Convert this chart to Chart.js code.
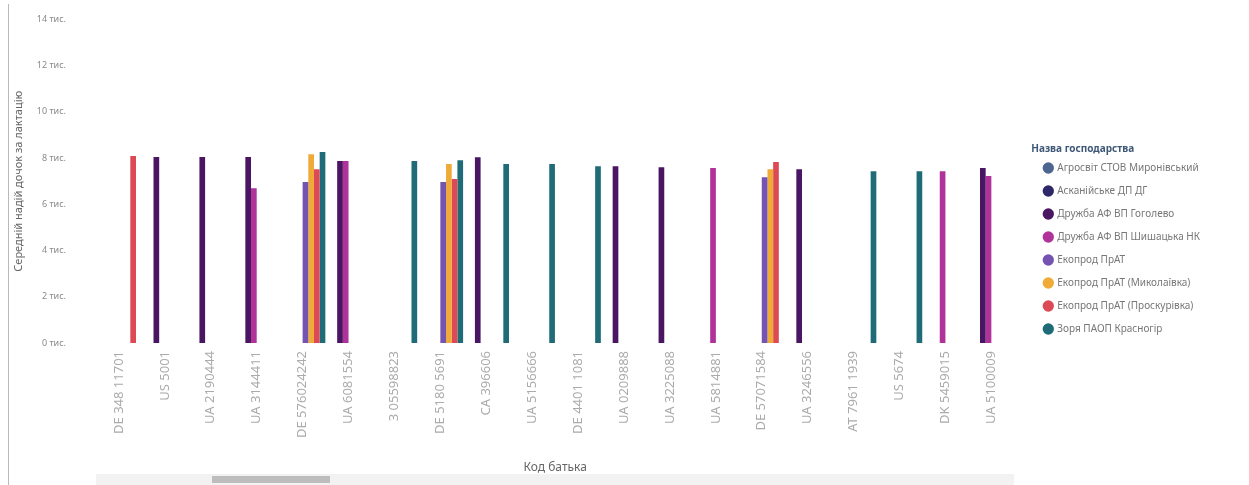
<!DOCTYPE html>
<html lang="uk">
<head>
<meta charset="utf-8" />
<script src="https://cdnjs.cloudflare.com/ajax/libs/Chart.js/4.4.1/chart.umd.min.js"></script>
<title>Надій дочок за кодом батька</title>
<style>
  html, body { margin: 0; padding: 0; background: #fff; overflow: hidden; }
  body { width: 1249px; height: 485px; position: relative; font-family: "Noto Sans", sans-serif; }
  #wrap { position: absolute; left: 0; top: -8px; width: 1249px; height: 493px; }
  .frame { position: absolute; left: 8px; top: 4px; bottom: 0; width: 1px; background: #b9b9b9; }
  .scroll { position: absolute; left: 96px; width: 918px; top: 474px; height: 11px; background: #f2f2f2; }
  .thumb { position: absolute; left: 116px; width: 118px; top: 2px; height: 7px; background: #bdbdbd; }
</style>
</head>
<body>
<div id="wrap"><canvas id="chart" width="1249" height="493"></canvas></div>
<div class="frame"></div>
<div class="scroll"><div class="thumb"></div></div>

<script>
// код батька (категорії осі X)
const categories = [
  "DE 348 11701", "US 5001", "UA 2190444", "UA 3144411", "DE 576024242",
  "UA 6081554", "3 05598823", "DE 5180 5691", "CA 396606", "UA 5156666",
  "DE 4401 1081", "UA 0209888", "UA 3225088", "UA 5814881", "DE 57071584",
  "UA 3246556", "AT 7961 1939", "US 5674", "DK 5459015", "UA 5100009"
];

const farms = [
  "Агросвіт СТОВ Миронівський",
  "Асканійське ДП ДГ",
  "Дружба АФ ВП Гоголево",
  "Дружба АФ ВП Шишацька НК",
  "Екопрод ПрАТ",
  "Екопрод ПрАТ (Миколаївка)",
  "Екопрод ПрАТ (Проскурівка)",
  "Зоря ПАОП Красногір"
];

const farmColors = ["#4d6690", "#2e2868", "#4a1563", "#b0339a", "#7553b0", "#f0aa38", "#dc4b55", "#1f6c78"];

// середній надій, кг (null = немає даних)
const agrosvit    = [null, null, null, null, null, null, null, null, null, null, null, null, null, null, null, null, null, null, null, null];
const askaniia    = [null, null, null, null, null, null, null, null, null, null, null, null, null, null, null, null, null, null, null, null];
const hoholevo    = [null, 8050, 8050, 8050, null, 7870, null, null, 8040, null, null, 7650, 7600, null, null, 7520, null, null, null, 7570];
const shyshaky    = [null, null, null, 6700, null, 7870, null, null, null, null, null, null, null, 7570, null, null, null, null, 7430, 7220];
const ekoprod     = [null, null, null, null, 6960, null, null, 6960, null, null, null, null, null, null, 7170, null, null, null, null, null];
const mykolaivka  = [null, null, null, null, 8170, null, null, 7740, null, null, null, null, null, null, 7520, null, null, null, null, null];
const proskurivka = [8090, null, null, null, 7520, null, null, 7090, null, null, null, null, null, null, 7830, null, null, null, null, null];
const zoria       = [null, null, null, null, 8260, null, 7870, 7910, 7740, 7740, 7650, null, null, null, null, null, 7430, 7430, null, null];

const yTicks = [0, 2000, 4000, 6000, 8000, 10000, 12000, 14000];

const seriesValues = [agrosvit, askaniia, hoholevo, shyshaky, ekoprod, mykolaivka, proskurivka, zoria];

const datasets = farms.map((name, i) => ({
  label: name,
  data: seriesValues[i],
  backgroundColor: farmColors[i],
  borderWidth: 0,
  categoryPercentage: 0.99,
  barPercentage: 1.0
}));

const font = "'Noto Sans', sans-serif";

new Chart(document.getElementById('chart').getContext('2d'), {
  type: 'bar',
  data: { labels: categories, datasets },
  options: {
    responsive: false,
    animation: false,
    layout: { padding: { left: 12, right: 39, top: 0, bottom: 10 } },
    plugins: {
      tooltip: { enabled: false },
      legend: {
        position: 'right',
        align: 'center',
        title: {
          display: true,
          text: 'Назва господарства',
          position: 'start',
          color: '#3f5878',
          font: { family: font, size: 10, weight: 'bold' },
          padding: { top: 24, bottom: -6 }
        },
        labels: {
          usePointStyle: true,
          pointStyle: 'circle',
          boxWidth: 8,
          boxHeight: 8,
          padding: 13,
          color: '#777',
          font: { family: font, size: 10 }
        }
      }
    },
    scales: {
      x: {
        grid: { display: false },
        border: { display: false },
        afterFit: axis => { axis.height = 132; },
        ticks: {
          autoSkip: false,
          maxRotation: 90,
          minRotation: 90,
          padding: 0,
          color: '#ababab',
          font: { family: font, size: 13 }
        },
        title: {
          display: true,
          text: 'Код батька',
          color: '#666',
          font: { family: font, size: 12 },
          padding: { top: 4, bottom: 0 }
        }
      },
      y: {
        min: 0,
        max: 14000,
        afterBuildTicks: axis => { axis.ticks = yTicks.map(v => ({ value: v })); },
        afterFit: axis => { axis.width = 84; },
        grid: { display: false },
        border: { display: false },
        ticks: {
          padding: 22,
          color: '#8a8a8a',
          font: { family: font, size: 9 },
          callback: v => (v / 1000) + ' тис.'
        },
        title: {
          display: true,
          text: 'Середній надій дочок за лактацію',
          color: '#666',
          font: { family: font, size: 11 },
          padding: { top: 0, bottom: 4 }
        }
      },
      spacer: {
        type: 'linear',
        position: 'right',
        grid: { display: false },
        border: { display: false },
        ticks: { display: false },
        afterFit: axis => { axis.width = 17; }
      }
    }
  }
});
</script>
</body>
</html>
